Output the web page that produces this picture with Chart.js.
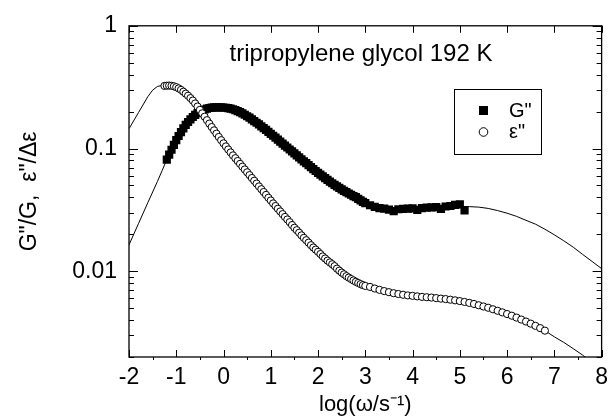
<!DOCTYPE html>
<html>
<head>
<meta charset="utf-8">
<script src="https://cdn.jsdelivr.net/npm/chart.js@4.4.0/dist/chart.umd.min.js"></script>
<style>
  html, body { margin: 0; padding: 0; background: #fff; }
  #wrap { width: 615px; height: 420px; }
</style>
</head>
<body>
<div id="wrap"><canvas id="myChart" width="615" height="420"></canvas></div>
<script>
// G'' data (filled squares), log(omega) and G''/G
const gX = [-1.20, -1.15, -1.10, -1.05, -1.00, -0.95, -0.90, -0.85, -0.80, -0.75,
  -0.70, -0.65, -0.60, -0.55, -0.50, -0.45, -0.40, -0.35, -0.30, -0.25,
  -0.20, -0.15, -0.10, -0.05, 0.00, 0.05, 0.10, 0.15, 0.20, 0.25,
  0.30, 0.35, 0.40, 0.45, 0.50, 0.55, 0.60, 0.65, 0.70, 0.75,
  0.80, 0.85, 0.90, 0.95, 1.00, 1.05, 1.10, 1.15, 1.20, 1.25,
  1.30, 1.35, 1.40, 1.45, 1.50, 1.55, 1.60, 1.65, 1.70, 1.75,
  1.80, 1.85, 1.90, 1.95, 2.00, 2.05, 2.10, 2.15, 2.20, 2.25,
  2.30, 2.35, 2.40, 2.45, 2.50, 2.55, 2.60, 2.65, 2.70, 2.75,
  2.80, 2.85, 2.90, 2.95, 3.00, 3.1, 3.2, 3.3, 3.4, 3.5,
  3.6, 3.7, 3.8, 3.9, 4.0, 4.1, 4.2, 4.3, 4.4, 4.5,
  4.6, 4.7, 4.8, 4.9, 5.0, 5.1];
const gY = [0.0813, 0.0891, 0.0977, 0.1072, 0.1169, 0.1265, 0.1361, 0.1459, 0.1556, 0.1644,
  0.1730, 0.1807, 0.1879, 0.1945, 0.1995, 0.2042, 0.2080, 0.2113, 0.2138, 0.2153,
  0.2163, 0.2168, 0.2168, 0.2163, 0.2158, 0.2148, 0.2133, 0.2113, 0.2089, 0.2056,
  0.2018, 0.1977, 0.1932, 0.1884, 0.1832, 0.1782, 0.1730, 0.1675, 0.1622, 0.1570,
  0.1517, 0.1466, 0.1416, 0.1365, 0.1318, 0.1271, 0.1225, 0.1180, 0.1138, 0.1096,
  0.1057, 0.1019, 0.0982, 0.0946, 0.0912, 0.0879, 0.0847, 0.0817, 0.0787, 0.0759,
  0.0731, 0.0705, 0.0679, 0.0656, 0.0634, 0.0612, 0.0592, 0.0573, 0.0555, 0.0537,
  0.0521, 0.0506, 0.0491, 0.0478, 0.0465, 0.0452, 0.0441, 0.0430, 0.0420, 0.0410,
  0.0401, 0.0389, 0.0378, 0.0368, 0.0359, 0.0345, 0.0335, 0.0327, 0.0324, 0.0318,
  0.0309, 0.0320, 0.0322, 0.0324, 0.0325, 0.0316, 0.0327, 0.0330, 0.0331, 0.0333,
  0.0322, 0.0337, 0.0340, 0.0347, 0.0351, 0.0313];

// eps'' data (open circles), log(omega) and eps''/delta eps
const eX = [-1.25, -1.20, -1.15, -1.10, -1.05, -1.00, -0.95, -0.90, -0.85, -0.80,
  -0.75, -0.70, -0.65, -0.60, -0.55, -0.50, -0.45, -0.40, -0.35, -0.30,
  -0.25, -0.20, -0.15, -0.10, -0.05, 0.00, 0.05, 0.10, 0.15, 0.20,
  0.25, 0.30, 0.35, 0.40, 0.45, 0.50, 0.55, 0.60, 0.65, 0.70,
  0.75, 0.80, 0.85, 0.90, 0.95, 1.00, 1.05, 1.10, 1.15, 1.20,
  1.25, 1.30, 1.35, 1.40, 1.45, 1.50, 1.55, 1.60, 1.65, 1.70,
  1.75, 1.80, 1.85, 1.90, 1.95, 2.00, 2.05, 2.10, 2.15, 2.20,
  2.25, 2.30, 2.35, 2.40, 2.45, 2.50, 2.55, 2.60, 2.65, 2.70,
  2.75, 2.80, 2.85, 2.90, 2.95, 3.00, 3.1, 3.2, 3.3, 3.4,
  3.5, 3.6, 3.7, 3.8, 3.9, 4.0, 4.1, 4.2, 4.3, 4.4,
  4.5, 4.6, 4.7, 4.8, 4.9, 5.0, 5.1, 5.2, 5.3, 5.4,
  5.5, 5.6, 5.7, 5.8, 5.9, 6.0, 6.1, 6.2, 6.3, 6.4,
  6.5, 6.6, 6.7, 6.8];
const eY = [0.3236, 0.3251, 0.3258, 0.3243, 0.3214, 0.3162, 0.3090, 0.3006, 0.2904, 0.2799,
  0.2692, 0.2576, 0.2460, 0.2328, 0.2198, 0.2065, 0.1936, 0.1816, 0.1702, 0.1596,
  0.1496, 0.1406, 0.1321, 0.1242, 0.1169, 0.1102, 0.1040, 0.0982, 0.0929, 0.0879,
  0.0834, 0.0791, 0.0750, 0.0711, 0.0675, 0.0640, 0.0607, 0.0575, 0.0546, 0.0518,
  0.0491, 0.0466, 0.0442, 0.0419, 0.0397, 0.0377, 0.0357, 0.0340, 0.0323, 0.0307,
  0.0292, 0.0277, 0.0264, 0.0251, 0.0238, 0.0226, 0.0216, 0.0206, 0.0196, 0.0187,
  0.0179, 0.0171, 0.0163, 0.0156, 0.0150, 0.0144, 0.0138, 0.0132, 0.0127, 0.0122,
  0.0118, 0.0114, 0.0110, 0.0105, 0.0101, 0.00975, 0.00944, 0.00912, 0.00887, 0.00863,
  0.00841, 0.00820, 0.00802, 0.00785, 0.00771, 0.00759, 0.00745, 0.00723, 0.00705, 0.00689,
  0.00675, 0.00662, 0.00652, 0.00643, 0.00635, 0.00630, 0.00624, 0.00618, 0.00614, 0.00610,
  0.00604, 0.00598, 0.00593, 0.00586, 0.00579, 0.00571, 0.00562, 0.00552, 0.00541, 0.00528,
  0.00516, 0.00504, 0.00490, 0.00476, 0.00462, 0.00448, 0.00434, 0.00419, 0.00404, 0.00389,
  0.00374, 0.00359, 0.00344, 0.00328];

// fit curves (thin lines)
const fitEX = [-2.0, -1.8, -1.6, -1.5, -1.4, -1.3, -1.2, -1.0, -0.8, -0.6,
  -0.4, -0.2, 0.0, 0.2, 0.4, 0.6, 0.8, 1.0, 1.2, 1.4,
  1.6, 1.8, 2.0, 2.2, 2.4, 2.6, 2.8, 3.0, 3.2, 3.4,
  3.6, 3.8, 4.0, 4.2, 4.4, 4.6, 4.8, 5.0, 5.2, 5.4,
  5.6, 5.8, 6.0, 6.2, 6.4, 6.6, 6.8, 7.0, 7.2, 7.4,
  7.6, 7.8, 8.0];
const fitEY = [0.145, 0.196, 0.265, 0.299, 0.320, 0.327, 0.325, 0.316, 0.280, 0.233,
  0.182, 0.141, 0.110, 0.0879, 0.0711, 0.0575, 0.0466, 0.0377, 0.0307, 0.0251,
  0.0206, 0.0171, 0.0144, 0.0122, 0.0105, 0.00912, 0.00820, 0.00759, 0.00723, 0.00689,
  0.00662, 0.00643, 0.00630, 0.00618, 0.00610, 0.00598, 0.00586, 0.00571, 0.00552, 0.00528,
  0.00504, 0.00476, 0.00448, 0.00419, 0.00389, 0.00359, 0.00328, 0.00292, 0.00263, 0.00234,
  0.00207, 0.00180, 0.00155];
const fitGX = [-2.0, -1.8, -1.6, -1.4, -1.3, -1.2, -1.0, -0.8, -0.6, -0.4,
  -0.2, 0.0, 0.2, 0.4, 0.6, 0.8, 1.0, 1.2, 1.4, 1.6,
  1.8, 2.0, 2.2, 2.4, 2.6, 2.8, 3.0, 3.2, 3.4, 3.6,
  3.8, 4.0, 4.2, 4.4, 4.6, 4.8, 5.0, 5.2, 5.4, 5.6,
  5.8, 6.0, 6.2, 6.4, 6.6, 6.8, 7.0, 7.2, 7.4, 7.6,
  7.8, 8.0];
const fitGY = [0.0164, 0.0244, 0.0363, 0.0537, 0.066, 0.0813, 0.117, 0.156, 0.188, 0.208,
  0.216, 0.216, 0.209, 0.193, 0.173, 0.152, 0.132, 0.114, 0.0982, 0.0847,
  0.0731, 0.0634, 0.0555, 0.0491, 0.0441, 0.0401, 0.0359, 0.0335, 0.0324, 0.0320,
  0.0322, 0.0325, 0.0328, 0.0331, 0.0333, 0.0336, 0.0337, 0.0336, 0.0333, 0.0325,
  0.0312, 0.0297, 0.0280, 0.0260, 0.0242, 0.0220, 0.0198, 0.0177, 0.0157, 0.0137,
  0.0120, 0.0105];

const yTickValues = [0.01, 0.1, 1];
const yTickLabels = ['0.01', '0.1', '1'];
const plotTitle = 'tripropylene glycol 192 K';
const legendLabels = ['G"', 'ε"'];

const FONT = 'Arial, "Liberation Sans", sans-serif';

function toPoints(xs, ys) {
  return xs.map((x, i) => ({ x: x, y: ys[i] }));
}

// frame with inward ticks, title inside the plot and the boxed legend
const decorations = {
  id: 'decorations',
  afterDatasetsDraw(chart) {
    const { ctx, chartArea: a, scales: { x, y } } = chart;
    ctx.save();
    ctx.strokeStyle = '#000';
    ctx.lineWidth = 1.3;
    ctx.strokeRect(a.left, a.top, a.right - a.left, a.bottom - a.top);

    ctx.lineWidth = 1;
    ctx.beginPath();
    for (let v = x.min; v <= x.max; v++) {
      const px = Math.round(x.getPixelForValue(v)) + 0.5;
      ctx.moveTo(px, a.bottom); ctx.lineTo(px, a.bottom - 7);
      ctx.moveTo(px, a.top); ctx.lineTo(px, a.top + 7);
      if (v < x.max) {
        const mx = Math.round(x.getPixelForValue(v + 0.5)) + 0.5;
        ctx.moveTo(mx, a.bottom); ctx.lineTo(mx, a.bottom + 3);
      }
    }
    for (let d = -3; d <= 0; d++) {
      for (let k = 1; k <= 9; k++) {
        const v = k * Math.pow(10, d);
        if (v < y.min * 0.999 || v > y.max * 1.001) continue;
        const py = Math.round(y.getPixelForValue(v)) + 0.5;
        const len = k === 1 ? 9 : 5;
        ctx.moveTo(a.left, py); ctx.lineTo(a.left + len, py);
        ctx.moveTo(a.right, py); ctx.lineTo(a.right - len, py);
      }
    }
    ctx.stroke();

    // title inside plot
    ctx.fillStyle = '#000';
    ctx.font = '24px ' + FONT;
    ctx.textAlign = 'center';
    ctx.textBaseline = 'alphabetic';
    ctx.fillText(plotTitle, 361, 61);

    // legend box
    ctx.lineWidth = 1;
    ctx.strokeRect(454.5, 89.5, 87, 65);
    ctx.fillRect(479, 106, 9, 9);
    ctx.beginPath();
    ctx.arc(483.5, 132, 4.3, 0, Math.PI * 2);
    ctx.fillStyle = '#fff';
    ctx.fill();
    ctx.stroke();
    ctx.fillStyle = '#000';
    ctx.font = '20px ' + FONT;
    ctx.textAlign = 'left';
    ctx.textBaseline = 'middle';
    ctx.fillText(legendLabels[0], 509, 111);
    ctx.fillText(legendLabels[1], 509, 132);
    ctx.restore();
  }
};

const ctx = document.getElementById('myChart').getContext('2d');
const myChart = new Chart(ctx, {
  type: 'scatter',
  data: {
    datasets: [
      {
        label: 'fit eps',
        data: toPoints(fitEX, fitEY),
        showLine: true,
        borderColor: '#000',
        borderWidth: 1,
        pointRadius: 0,
        tension: 0,
        order: 3
      },
      {
        label: 'fit G',
        data: toPoints(fitGX, fitGY),
        showLine: true,
        borderColor: '#000',
        borderWidth: 1,
        pointRadius: 0,
        tension: 0,
        order: 3
      },
      {
        label: legendLabels[0],
        data: toPoints(gX, gY),
        pointStyle: 'rect',
        pointRadius: 5.8,
        backgroundColor: '#000',
        borderColor: '#000',
        borderWidth: 0,
        order: 2
      },
      {
        label: legendLabels[1],
        data: toPoints(eX, eY),
        pointStyle: 'circle',
        pointRadius: 3.6,
        backgroundColor: '#fff',
        borderColor: '#000',
        borderWidth: 1,
        order: 1
      }
    ]
  },
  options: {
    responsive: false,
    animation: false,
    layout: { padding: { top: 20, right: 13, left: 0, bottom: 0 } },
    plugins: {
      legend: { display: false },
      tooltip: { enabled: false }
    },
    scales: {
      x: {
        type: 'linear',
        min: -2,
        max: 8,
        afterFit: (s) => { s.height = 63; },
        grid: { display: false, drawTicks: false },
        border: { display: false },
        ticks: {
          stepSize: 1,
          padding: 7,
          color: '#000',
          font: { family: FONT, size: 23 }
        },
        title: {
          display: true,
          text: 'log(ω/s⁻¹)',
          color: '#000',
          font: { family: FONT, size: 22 },
          padding: { top: 0, bottom: 2 }
        }
      },
      y: {
        type: 'logarithmic',
        min: 0.002,
        max: 1,
        afterFit: (s) => { s.width = 129; },
        afterBuildTicks: (s) => { s.ticks = yTickValues.map(v => ({ value: v })); },
        grid: { display: false, drawTicks: false },
        border: { display: false },
        ticks: {
          padding: 12,
          color: '#000',
          font: { family: FONT, size: 23 },
          callback: (v, i) => yTickLabels[i]
        },
        title: {
          display: true,
          text: 'G"/G,  ε"/Δε',
          color: '#000',
          font: { family: FONT, size: 23 },
          padding: { top: 16, bottom: 0 }
        }
      }
    }
  },
  plugins: [decorations]
});
</script>
</body>
</html>
